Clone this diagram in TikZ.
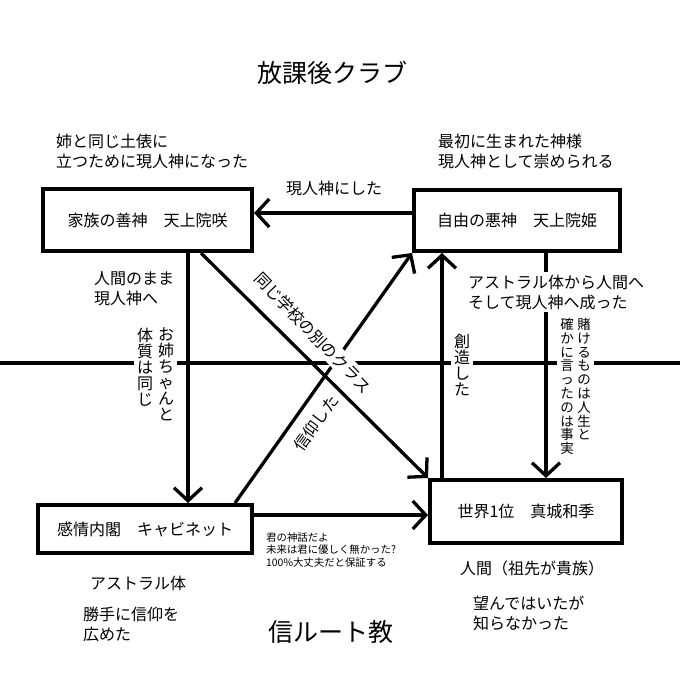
\documentclass[tikz,border=0pt]{standalone}
\usepackage{fontspec}
\newfontfamily\jp{Noto Sans CJK JP}
\usetikzlibrary{arrows.meta}
\begin{document}
\begin{tikzpicture}[x=1pt,y=-1pt,
  box/.style={draw, line width=4pt, inner sep=0pt, font=\jp\fontsize{16}{19}\selectfont},
  conn/.style={line width=3.3pt},
  arr/.style={conn, -{Straight Barb[length=13pt,width=28pt]}},
  txt/.style={inner sep=1pt, font=\jp\fontsize{16}{20}\selectfont, align=left},
  wtxt/.style={txt, fill=white, inner sep=3pt},
  vtxt/.style={inner sep=3pt, fill=white, align=center, font=\jp\fontsize{16}{16}\selectfont},
  vtxts/.style={inner sep=3pt, fill=white, align=center, font=\jp\fontsize{13.5}{13.8}\selectfont},
  smalltxt/.style={inner sep=1pt, font=\jp\fontsize{10.4}{12.8}\selectfont, align=left},
  bigtxt/.style={inner sep=1pt, font=\jp\fontsize{25}{28}\selectfont}
]
\useasboundingbox (0,0) rectangle (680,680);
\fill[white] (0,0) rectangle (680,680);

% boxes
\node[box, minimum width=209pt, minimum height=62pt] (A) at (147.5,220) {家族の善神　天上院咲};
\node[box, minimum width=206pt, minimum height=61pt] (B) at (517,220.5) {自由の悪神　天上院姫};
\node[box, minimum width=214pt, minimum height=48pt] (C) at (145,529) {感情内閣　キャビネット};
\node[box, minimum width=192pt, minimum height=63pt] (D) at (526,511.5) {世界1位　真城和季};

% long horizontal line
\coordinate (hl) at (0,363);
\coordinate (hr) at (680,363);
\draw[conn] (hl) -- (hr);

% connectors
\draw[arr] (B.west |- 0,213) -- (A.east |- 0,213);
\draw[arr] (188,0 |- A.south) -- (188,0 |- C.north);
\draw[arr] (201,0 |- A.south) -- (D.north west);
\draw[arr] (235,0 |- C.north) -- (B.south west);
\draw[arr] (C.east |- 0,515) -- (D.west |- 0,515);
\draw[arr] (442,0 |- D.north) -- (442,0 |- B.south);
\draw[arr] (546,0 |- B.south) -- (546,0 |- D.north);

% titles
\node[bigtxt] (t1) at (332,73) {放課後クラブ};
\node[bigtxt] (t2) at (331,632) {信ルート教};

% labels
\node[txt, anchor=west] (n1) at (55,151) {姉と同じ土俵に\\立つために現人神になった};
\node[txt, anchor=west] (n2) at (437,151) {最初に生まれた神様\\現人神として崇められる};
\node[txt] (n3) at (334,188) {現人神にした};
\node[txt, anchor=west] (n4) at (93,289) {人間のまま\\現人神へ};
\node[vtxt, anchor=north] (v1) at (166,325) {お\\姉\\ち\\ゃ\\ん\\と};
\node[vtxt, anchor=north] (v2) at (145,325) {体\\質\\は\\同\\じ};
\node[wtxt, rotate=-46] (r1) at (313,333) {同じ学校の別のクラス};
\node[wtxt, rotate=54] (r2) at (316,423) {信仰した};
\node[wtxt, anchor=west] (n5) at (465,292) {アストラル体から人間へ\\そして現人神へ成った};
\node[vtxt, anchor=north] (v3) at (462,331) {創\\造\\し\\た};
\node[vtxts, anchor=north] (v4) at (584,315) {賭\\け\\る\\も\\の\\は\\人\\生\\と};
\node[vtxts, anchor=north] (v5) at (567,315) {確\\か\\に\\言\\っ\\た\\の\\は\\事\\実};
\node[smalltxt, anchor=west] (n6) at (265,550) {君の神話だよ\\未来は君に優しく無かった?\\100\%大丈夫だと保証する};
\node[txt] (n7) at (138,583) {アストラル体};
\node[txt, anchor=west] (n8) at (82,624) {勝手に信仰を\\広めた};
\node[txt] (n9) at (532,568) {人間（祖先が貴族）};
\node[txt, anchor=west] (n10) at (472,613) {望んではいたが\\知らなかった};
\end{tikzpicture}
\end{document}
